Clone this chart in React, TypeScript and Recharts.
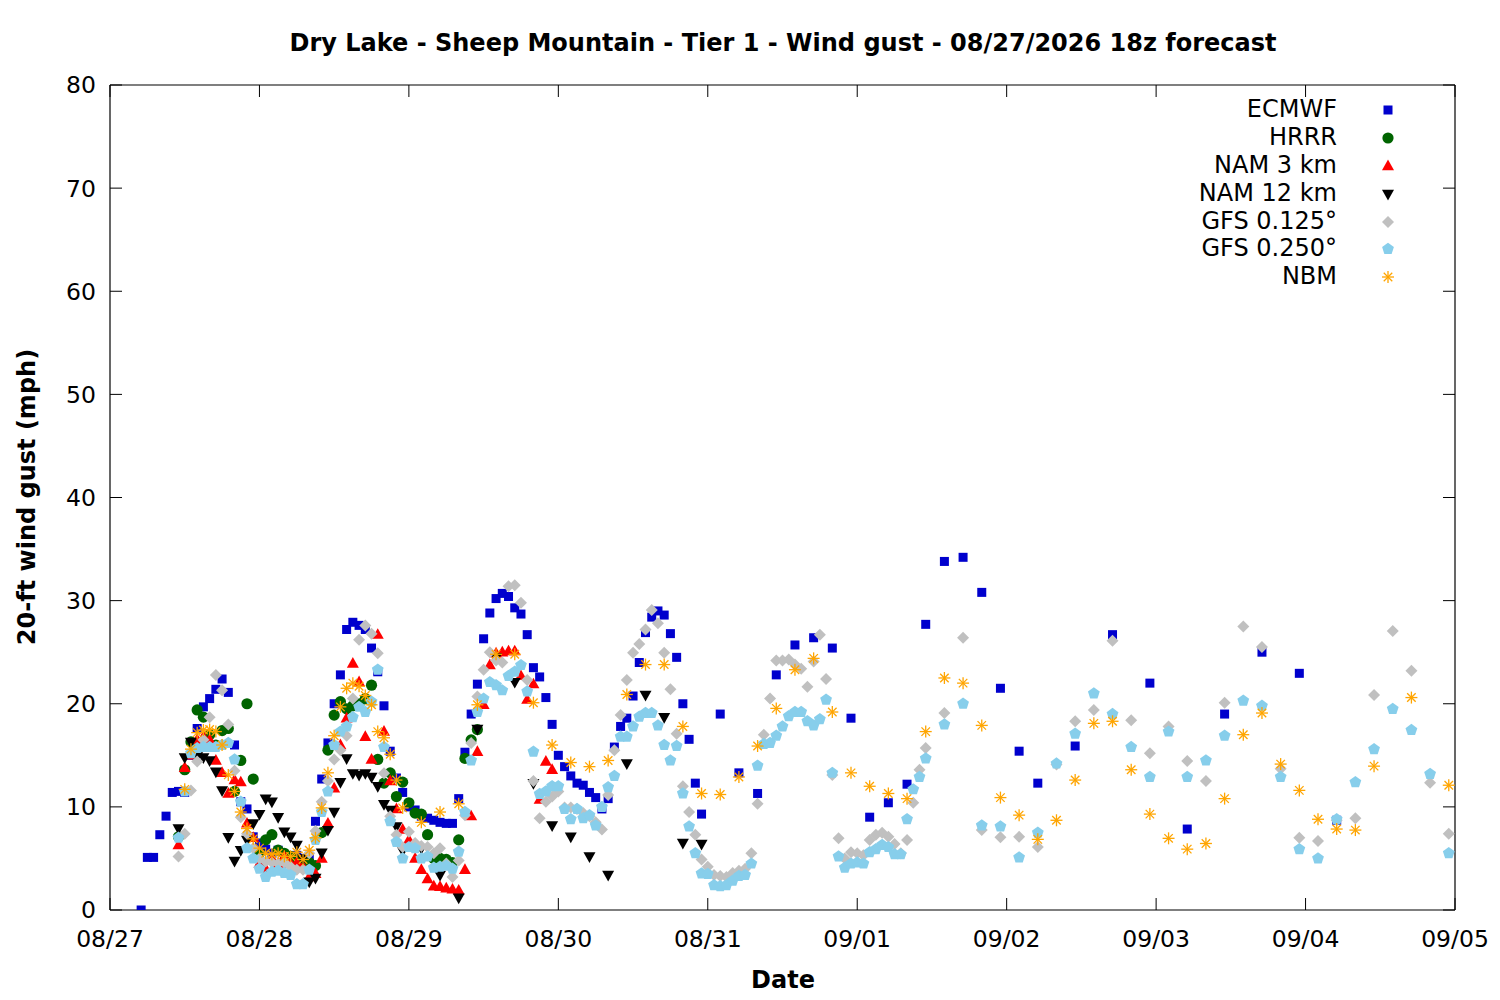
import React from 'react';
import { ScatterChart, Scatter, XAxis, YAxis, Legend } from 'recharts';

const FONT = '"DejaVu Sans", Verdana, sans-serif';

// ---------- axis ticks ----------
const dayLabels = ['08/27', '08/28', '08/29', '08/30', '08/31', '09/01', '09/02', '09/03', '09/04', '09/05'];
const xTicks = [0, 24, 48, 72, 96, 120, 144, 168, 192, 216];
const yTicks = [0, 10, 20, 30, 40, 50, 60, 70, 80];

// ---------- data (hours since 08/27 00:00 local) ----------
// ECMWF: hourly from h5, 3-hourly from h98, 6-hourly from h155
const ecmwfHourly = [
  0, 5.1, 5.1, 7.3, 9.1, 11.4, 11.5, 11.4, 15.0, 17.6, 19.7, 20.5, 21.4, 22.4, 21.1, 16.0, 10.5, 9.8, 7.1,
  6.5, 5.9, 5.5, 5.8, 5.2, 5.0, 5.3, 5.0, 5.2,
  8.6, 12.7, 16.2, 20.0, 22.8, 27.2, 27.9, 27.6, 27.2, 25.4, 23.1, 19.8, 15.4, 12.8, 11.4,
  10.0, 9.7, 9.1, 8.9, 8.7, 8.5, 8.4, 8.4, 10.8,
  15.3, 19.0, 21.9, 26.3, 28.8, 30.2, 30.7, 30.4, 29.3, 28.7, 26.7, 23.5, 22.6, 20.6, 18.0, 15.0, 13.9, 13.0, 12.3, 12.1, 11.4, 10.9, 9.8, 10.8,
  15.8, 17.8, 18.6, 20.75, 24.0, 26.9, 28.4, 29.0, 28.6, 26.8, 24.5, 20.0, 16.55, 12.3, 9.3,
];
const ecmwf3h = [19.0, 13.3, 11.3, 22.8, 25.7, 26.4, 25.4, 18.6, 9.0, 10.4, 12.2, 27.7, 33.8, 34.2, 30.8, 21.5, 15.4, 12.3];
const ecmwf6h = [15.9, 26.7, 22.0, 7.85, 19.0, 25.0, 22.95, 8.7];

// HRRR: hourly from h11
const hrrrHourly = [
  7.1, 13.6, 16.3, 19.4, 18.7, 17.0, 16.0, 17.4, 17.6, 11.5, 14.5, 20.0, 12.7,
  5.5, 6.8, 7.3, 5.8, 5.5, 5.2, 4.8, 4.8, 4.6, 4.3, 7.5,
  15.5, 18.9, 20.2, 19.5, 19.8, 20.0, 20.5, 21.8, 14.6, 12.3, 13.3, 11.0, 12.4,
  10.4, 9.4, 9.3, 7.3, 5.0, 5.0, 4.9, 4.6, 6.8, 14.7, 16.5, 17.5,
];

// NAM 3 km: hourly from h11
const nam3Hourly = [
  6.3, 13.8, 15.0, 16.5, 16.8, 16.5, 14.5, 13.3, 11.3, 12.6,
  12.4, 8.4, 7.0, 4.5, 4.0, 5.0, 4.5, 5.2, 4.5, 4.6,
  4.2, 3.2, 3.5, 5.0, 8.4, 11.8, 16.0, 18.6, 23.9, 22.1,
  16.8, 14.6, 26.7, 17.3, 12.5, 9.8, 7.8, 6.8, 5.0, 3.9,
  3.0, 2.3, 2.25, 2.1, 2.0, 1.9, 3.9, 9.1, 15.35, 19.9,
  23.75, 24.9, 25.0, 25.1, 25.1, 22.7, 20.4, 21.9, 10.7, 14.4, 13.6,
];

// NAM 12 km: hourly from h11, 3-hourly from h50
const nam12Hourly = [
  7.9, 14.8, 16.3, 14.9, 14.8, 14.5, 13.4, 11.6, 7.05, 4.75,
  5.8, 6.8, 8.4, 9.3, 10.8, 10.5, 9.0, 7.6, 7.1, 6.3,
  5.0, 2.75, 3.1, 5.55, 7.75, 9.5, 12.4, 14.7, 13.25, 13.1,
  13.25, 12.9, 12.0, 10.25, 9.7, 8.1, 5.75,
];
const nam12_3h = [6.0, 3.4, 1.2, 17.55, 24.5, 22.1, 12.3, 8.2, 7.1, 5.2, 3.4, 14.2, 20.85, 18.7, 6.5, 6.4];

// GFS 0.125: hourly from h11, 3-hourly from h134
const gfs125Hourly = [
  5.2, 7.4, 11.6, 14.4, 16.5, 18.7, 22.8, 21.3, 18.0, 13.5,
  9.0, 7.4, 6.0, 5.0, 4.7, 4.6, 4.5, 4.6, 4.2, 3.9,
  3.9, 5.5, 7.65, 10.5, 12.5, 14.6, 15.5, 16.9, 20.5, 26.2,
  27.6, 26.8, 24.9, 13.25, 9.1, 7.3, 6.1, 7.6, 6.5, 6.2,
  6.1, 5.5, 6.0, 4.5, 3.2, 4.8, 9.2, 16.2, 20.7, 23.3,
  25.0, 24.2, 24.0, 31.4, 31.5, 29.8, 22.3, 12.5, 8.9, 10.5,
  11.0, 11.5, 9.95, 9.95, 9.8, 9.4, 9.1, 8.5, 7.8, 11.15,
  15.5, 18.9, 22.3, 24.95, 25.8, 27.2, 29.1, 27.8, 24.95, 21.4,
  17.1, 12.0, 9.5, 7.3, 4.9, 4.2, 3.4, 3.3, 3.2, 3.6,
  3.8, 4.0, 5.5, 10.3, 17.0, 20.5, 24.2, 24.2, 24.3, 23.8,
  23.4, 21.65, 24.1, 26.7, 22.4, 13.1, 6.95, 5.0, 5.6, 5.5,
  5.3, 6.8, 7.3, 7.5, 7.1, 6.4, 5.5, 6.8, 10.4, 13.6, 15.7,
];
const gfs125_3h = [
  19.1, 26.4, 7.75, 7.05, 7.1, 6.1, 14.1, 18.3, 19.4, 26.1, 18.4, 15.2, 17.8, 14.45,
  12.5, 20.1, 27.5, 25.5, 13.7, 7.0, 6.7, 8.7, 8.9, 20.85, 27.05, 23.2, 12.35, 7.4,
];

// GFS 0.250: hourly from h11, 3-hourly from h134
const gfs250Hourly = [
  7.0, 11.5, 15.2, 15.7, 15.8, 15.8, 15.8, 16.0, 16.2, 14.6,
  10.5, 6.0, 5.0, 4.0, 3.2, 3.7, 3.8, 3.6, 3.4, 2.5,
  2.5, 3.9, 6.8, 9.5, 11.5, 16.0, 17.3, 17.8, 18.7, 19.7,
  19.2, 20.2, 23.3, 15.8, 8.6, 6.6, 5.0, 6.1, 6.0, 5.0,
  5.2, 4.1, 4.2, 4.3, 4.0, 5.65, 9.5, 14.5, 19.2, 20.5,
  22.1, 21.8, 21.3, 22.7, 23.1, 23.75, 21.2, 15.35, 11.25, 11.5,
  12.0, 12.0, 9.8, 8.8, 9.8, 8.9, 9.2, 8.2, 10.0, 11.9,
  13.0, 16.8, 16.8, 17.8, 18.75, 19.1, 19.1, 17.9, 16.0, 14.5,
  15.9, 11.3, 8.1, 5.5, 3.55, 3.5, 2.4, 2.3, 2.4, 2.85,
  3.3, 3.4, 4.5, 14.0, 16.1, 16.2, 16.9, 17.8, 18.8, 19.2,
  19.2, 18.3, 17.9, 18.5, 20.4, 13.3, 5.2, 4.1, 4.5, 4.6,
  4.5, 5.6, 5.9, 6.3, 6.1, 5.4, 5.4, 8.8, 11.7, 12.9, 14.7,
];
const gfs250_3h = [
  18.0, 20.0, 8.2, 8.1, 5.1, 7.5, 14.2, 17.1, 21.0, 19.0, 15.8, 12.9, 17.3, 12.9,
  14.5, 16.9, 20.3, 19.8, 12.9, 5.9, 5.0, 8.8, 12.4, 15.6, 19.5, 17.45, 13.2, 5.5,
];

// NBM: hourly from h12, 3-hourly from h50, 6-hourly from h209
const nbmHourly = [
  11.7, 15.6, 17.2, 17.45, 17.5, 17.3, 16.0, 13.1, 11.5, 9.5,
  7.9, 6.9, 6.0, 5.5, 5.4, 5.5, 5.2, 5.2, 5.6, 4.9,
  5.8, 7.0, 9.9, 13.3, 16.9, 19.7, 21.5, 22.0, 21.7, 20.8,
  19.9, 17.3, 16.7, 15.1, 12.6, 9.9,
];
const nbm3h = [
  8.5, 9.5, 10.3, 19.9, 24.8, 24.8, 20.1, 16.0, 14.3, 13.9,
  14.5, 20.9, 23.8, 23.8, 17.8, 11.3, 11.2, 12.9, 15.9, 19.55,
  23.3, 24.4, 19.2, 13.3, 12.0, 11.3, 10.8, 17.3, 22.5, 22.0,
  17.9, 10.9, 9.2, 6.85, 8.7, 12.6, 18.1, 18.3, 13.6, 9.3,
  6.95, 5.9, 6.45, 10.8, 17.0, 19.1, 14.15, 11.6, 8.8, 7.85,
  7.75, 13.95,
];
const nbm6h = [20.6, 12.1];

type Pt = { h: number; v: number };
const build = (start: number, step: number, vals: number[]): Pt[] =>
  vals.map((v, i) => ({ h: start + step * i, v }));

const ecmwfData = [...build(5, 1, ecmwfHourly), ...build(98, 3, ecmwf3h), ...build(155, 6, ecmwf6h)];
const hrrrData = build(11, 1, hrrrHourly);
const nam3Data = build(11, 1, nam3Hourly);
const nam12Data = [...build(11, 1, nam12Hourly), ...build(50, 3, nam12_3h)];
const gfs125Data = [...build(11, 1, gfs125Hourly), ...build(134, 3, gfs125_3h)];
const gfs250Data = [...build(11, 1, gfs250Hourly), ...build(134, 3, gfs250_3h)];
const nbmData = [...build(12, 1, nbmHourly), ...build(50, 3, nbm3h), ...build(209, 6, nbm6h)];

type Kind = 'square' | 'circle' | 'up' | 'down' | 'diamond' | 'pentagon' | 'star';

const seriesList: { name: string; color: string; kind: Kind; data: Pt[] }[] = [
  { name: 'ECMWF', color: '#0000cd', kind: 'square', data: ecmwfData },
  { name: 'HRRR', color: '#006400', kind: 'circle', data: hrrrData },
  { name: 'NAM 3 km', color: '#ff0000', kind: 'up', data: nam3Data },
  { name: 'NAM 12 km', color: '#000000', kind: 'down', data: nam12Data },
  { name: 'GFS 0.125°', color: '#c0c0c0', kind: 'diamond', data: gfs125Data },
  { name: 'GFS 0.250°', color: '#87ceeb', kind: 'pentagon', data: gfs250Data },
  { name: 'NBM', color: '#ffa500', kind: 'star', data: nbmData },
];

function marker(kind: Kind, color: string, cx: number, cy: number) {
  switch (kind) {
    case 'square':
      return <rect x={cx - 4.5} y={cy - 4.5} width={9} height={9} fill={color} />;
    case 'circle':
      return <circle cx={cx} cy={cy} r={5.6} fill={color} />;
    case 'up':
      return <polygon points={`${cx},${cy - 6.5} ${cx + 6},${cy + 4.2} ${cx - 6},${cy + 4.2}`} fill={color} />;
    case 'down':
      return <polygon points={`${cx},${cy + 6.5} ${cx + 6},${cy - 4.2} ${cx - 6},${cy - 4.2}`} fill={color} />;
    case 'diamond':
      return <polygon points={`${cx},${cy - 6} ${cx + 6},${cy} ${cx},${cy + 6} ${cx - 6},${cy}`} fill={color} />;
    case 'pentagon': {
      const pts: string[] = [];
      for (let k = 0; k < 5; k++) {
        const a = (-90 + 72 * k) * (Math.PI / 180);
        pts.push(`${cx + 6.2 * Math.cos(a)},${cy + 6.2 * Math.sin(a)}`);
      }
      return <polygon points={pts.join(' ')} fill={color} />;
    }
    case 'star': {
      const r = 6;
      const d = r * 0.7071;
      return (
        <g stroke={color} strokeWidth={1.3}>
          <line x1={cx - r} y1={cy} x2={cx + r} y2={cy} />
          <line x1={cx} y1={cy - r} x2={cx} y2={cy + r} />
          <line x1={cx - d} y1={cy - d} x2={cx + d} y2={cy + d} />
          <line x1={cx - d} y1={cy + d} x2={cx + d} y2={cy - d} />
        </g>
      );
    }
  }
  return null;
}

const TICK_LEN = 12;
const TICK_FONT = 23.5;
const LABEL_FONT = 24;

function BottomTick(props: any) {
  const { x, y, payload } = props;
  const idx = xTicks.indexOf(payload.value);
  return (
    <g>
      <line x1={x} x2={x} y1={y} y2={y - TICK_LEN} stroke="#000" strokeWidth={1} />
      <text x={x} y={y + 37} textAnchor="middle" fontFamily={FONT} fontSize={TICK_FONT} fill="#000">
        {dayLabels[idx]}
      </text>
    </g>
  );
}
function TopTick(props: any) {
  const { x, y } = props;
  return <line x1={x} x2={x} y1={y} y2={y + TICK_LEN} stroke="#000" strokeWidth={1} />;
}
function LeftTick(props: any) {
  const { x, y, payload } = props;
  return (
    <g>
      <line x1={x} x2={x + TICK_LEN} y1={y} y2={y} stroke="#000" strokeWidth={1} />
      <text x={x - 14} y={y} dy="0.36em" textAnchor="end" fontFamily={FONT} fontSize={TICK_FONT} fill="#000">
        {payload.value}
      </text>
    </g>
  );
}
function RightTick(props: any) {
  const { x, y } = props;
  return <line x1={x} x2={x - TICK_LEN} y1={y} y2={y} stroke="#000" strokeWidth={1} />;
}

function LegendBox() {
  return (
    <div style={{ fontFamily: FONT, fontSize: LABEL_FONT, color: '#000' }}>
      {seriesList.map((s) => (
        <div key={s.name} style={{ display: 'flex', alignItems: 'center', height: 27.9 }}>
          <span style={{ width: 237, textAlign: 'right', whiteSpace: 'nowrap', lineHeight: '27.9px' }}>{s.name}</span>
          <svg width={102} height={28} style={{ display: 'block' }}>
            {marker(s.kind, s.color, 51, 14)}
          </svg>
        </div>
      ))}
    </div>
  );
}

export default function App() {
  return (
    <div style={{ position: 'absolute', left: 0, top: 0, width: 1500, height: 1000, background: '#fff' }}>
      <ScatterChart width={1500} height={1000} margin={{ top: 84, right: 44, bottom: 0, left: 0 }}>
        <XAxis
          xAxisId="b"
          dataKey="h"
          type="number"
          orientation="bottom"
          domain={[0, 216]}
          ticks={xTicks}
          interval={0}
          height={90}
          tickSize={0}
          tickMargin={0}
          tickLine={false}
          axisLine={{ stroke: '#000', strokeWidth: 1.2 }}
          tick={<BottomTick />}
          allowDataOverflow
        />
        <XAxis
          xAxisId="t"
          dataKey="h"
          type="number"
          orientation="top"
          domain={[0, 216]}
          ticks={xTicks}
          interval={0}
          height={1}
          tickSize={0}
          tickMargin={0}
          tickLine={false}
          axisLine={{ stroke: '#000', strokeWidth: 1.2 }}
          tick={<TopTick />}
          allowDataOverflow
        />
        <YAxis
          yAxisId="l"
          dataKey="v"
          type="number"
          orientation="left"
          domain={[0, 80]}
          ticks={yTicks}
          interval={0}
          width={110}
          tickSize={0}
          tickMargin={0}
          tickLine={false}
          axisLine={{ stroke: '#000', strokeWidth: 1.2 }}
          tick={<LeftTick />}
          allowDataOverflow
        />
        <YAxis
          yAxisId="r"
          dataKey="v"
          type="number"
          orientation="right"
          domain={[0, 80]}
          ticks={yTicks}
          interval={0}
          width={1}
          tickSize={0}
          tickMargin={0}
          tickLine={false}
          axisLine={{ stroke: '#000', strokeWidth: 1.2 }}
          tick={<RightTick />}
          allowDataOverflow
        />
        <Legend
          layout="vertical"
          align="center"
          verticalAlign="middle"
          content={() => <LegendBox />}
          wrapperStyle={{ position: 'absolute', left: 1100, top: 96, width: 340, height: 200 }}
        />
        {seriesList.map((s) => (
          <Scatter
            key={s.name}
            name={s.name}
            data={s.data}
            xAxisId="b"
            yAxisId="l"
            dataKey="v"
            fill={s.color}
            isAnimationActive={false}
            shape={(p: any) => marker(s.kind, s.color, p.cx, p.cy)}
          />
        ))}
      </ScatterChart>
      <svg
        width={1500}
        height={1000}
        style={{ position: 'absolute', left: 0, top: 0, pointerEvents: 'none' }}
      >
        <text x={783} y={51} textAnchor="middle" fontFamily={FONT} fontWeight="bold" fontSize={LABEL_FONT} fill="#000">
          Dry Lake - Sheep Mountain - Tier 1 - Wind gust - 08/27/2026 18z forecast
        </text>
        <text x={783} y={988} textAnchor="middle" fontFamily={FONT} fontWeight="bold" fontSize={LABEL_FONT} fill="#000">
          Date
        </text>
        <text
          x={0}
          y={0}
          transform="translate(35,497) rotate(-90)"
          textAnchor="middle"
          fontFamily={FONT}
          fontWeight="bold"
          fontSize={LABEL_FONT}
          fill="#000"
        >
          20-ft wind gust (mph)
        </text>
      </svg>
    </div>
  );
}
